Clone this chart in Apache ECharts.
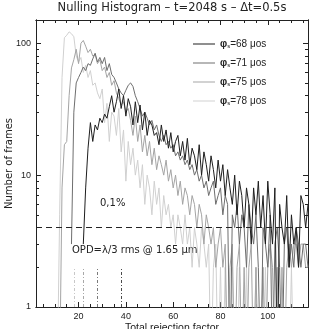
<!DOCTYPE html>
<html><head><meta charset="utf-8">
<script src="https://cdn.jsdelivr.net/npm/echarts@6/dist/echarts.min.js"></script>
<style>html,body{margin:0;padding:0;background:#fff}#c{width:311px;height:329px}</style>
</head><body><div id="c"></div>
<script>
// ---- data ----
const binStart = 10, binEnd = 117;            // histogram bins (rejection factor), one per unit
const phiValues = [68, 71, 75, 78];             // legend values (µas)
const seriesColors = ['#1e1e1e', '#6e6e6e', '#a4a4a4', '#d0d0d0'];
// counts per bin from x=10 to x=117 (null = not drawn, 0 = empty bin)
const s68 = [
 null,null,null,null,null,null,null,null,null,null,
 null,null,3,8,16,25,18,24,22,27,
 25,29,27,33,40,30,36,45,32,40,
 28,38,33,24,36,25,34,22,30,20,
 26,24,20,21,17,24,18,22,16,21,
 15,18,20,14,18,13,19,12,16,14,
 11,17,10,15,12,9,14,11,8,13,
 9,12,7,11,8,6,10,5,9,7,
 4,8,6,3,8,5,9,4,7,3,
 9,5,3,8,0,6,4,3,7,2,
 5,3,4,2,7,6,4,6];
const s71 = [
 null,null,null,null,null,null,null,3,30,50,
 55,60,66,62,70,68,76,84,72,78,
 70,78,62,70,58,55,50,45,42,40,
 44,48,50,47,40,36,32,28,30,27,
 24,26,22,24,20,18,20,17,18,16,
 17,14,15,13,14,12,13,11,12,10,
 11,9,10,8,9,7,8,9,6,7,
 8,5,7,6,0,5,4,6,3,5,
 4,2,6,4,3,5,2,0,4,3,
 2,5,0,3,4,2,0,3,4,2,
 3,2,4,3,2,3,3,2];
const s75 = [
 0,0,0,8,17,18,40,65,75,90,
 70,100,105,95,85,90,80,82,70,75,
 62,66,55,60,48,52,42,38,34,36,
 30,32,26,20,28,18,24,15,20,14,
 18,12,16,11,14,12,10,13,9,11,
 8,10,7,9,6,8,7,5,7,6,
 4,6,5,3,5,4,3,4,2,3,
 4,2,3,0,2,3,0,2,3,0,
 2,0,2,3,0,2,0,0,2,0,
 2,3,2,0,2,0,2,0,2,3,
 2,3,3,2,3,3,2,2];
const s78 = [
 0,0,5,55,110,115,122,118,112,80,
 72,78,60,68,55,62,48,50,42,38,
 45,25,35,18,30,28,20,32,15,22,
 9,18,12,16,10,13,8,12,6,10,
 8,5,9,6,8,4,7,5,6,4,
 5,3,5,4,3,5,3,4,2,4,
 3,2,4,3,2,3,0,2,3,0,
 2,0,2,0,0,2,0,0,2,0,
 0,2,0,0,0,2,0,0,0,2,
 0,0,0,0,2,0,0,0,0,0,
 2,0,0,0,0,0,0,0];
const xTicks = [20, 40, 60, 80, 100];
const xMinorTicks = [5,10,15,25,30,35,45,50,55,65,70,75,85,90,95,105,110,115];
const yTicks = [1, 10, 100];
const yMinorTicks = [2,3,4,5,6,7,8,9,20,30,40,50,60,70,80,90];
const threshold = 4;                  // 0,1% level
const opdX = [38, 28, 22, 18];        // OPD = lambda/3 markers for 68,71,75,78
const opdTop = 2;
const opdColors = ['#4a4a4a', '#7a7a7a', '#a8a8a8', '#c8c8c8'];

// ---- chart ----
const FONT = '"Liberation Sans", Arial, sans-serif';
const FONT2 = '"DejaVu Sans", sans-serif';
const AX = '#222';
const ZERO_DRAW = 0.3; // empty bins drawn below the log floor (clipped)
const bins = [];
for (let x = binStart; x <= binEnd; x++) bins.push(x);
const all = [s68, s71, s75, s78];
const names = phiValues.map(v => 'φs=' + v + ' μos');

function pairs(vals) {
  return bins.map((x, i) => [x, vals[i] == null ? null : (vals[i] === 0 ? ZERO_DRAW : vals[i])]);
}

const xBase = { type: 'value', min: 2, max: 117, splitLine: { show: false },
  axisLine: { show: true, lineStyle: { color: AX, width: 1 } } };
const yBase = { type: 'log', logBase: 10, min: 1, max: 150, splitLine: { show: false },
  axisLine: { show: true, lineStyle: { color: AX, width: 1 } } };

const series = [];
for (let k = all.length - 1; k >= 0; k--) {
  series.push({ name: names[k], type: 'line', data: pairs(all[k]), showSymbol: false, symbol: 'none',
    color: seriesColors[k], lineStyle: { width: 1, color: seriesColors[k] }, clip: true, animation: false,
    connectNulls: false });
}
series.push({ type: 'line', data: [], animation: false,
  markLine: { silent: true, symbol: ['none', 'none'], label: { show: false }, animation: false,
    data: [{ yAxis: threshold, lineStyle: { type: [6, 4], color: '#222', width: 1 } }].concat(
      opdX.map((x, i) => [{ coord: [x, 1], lineStyle: { type: [3, 2, 1, 2], color: opdColors[i], width: 1 } },
                          { coord: [x, opdTop] }])) } });

const option = {
  backgroundColor: '#fff',
  animation: false,
  title: { text: 'Nulling Histogram – t=2048 s – Δt=0.5s', left: 172, top: 2, padding: 0, textAlign: 'center',
    textStyle: { fontFamily: FONT2, fontSize: 11.5, fontWeight: 'normal', color: '#222' } },
  grid: { left: 36, right: 3, top: 20, bottom: 22, outerBoundsMode: 'none', containLabel: false },
  legend: { orient: 'vertical', left: 188, top: 34, itemWidth: 22, itemHeight: 1, itemGap: 9, icon: 'rect',
    data: names, selectedMode: false,
    formatter: n => '{p|φ}{s|s}{t|' + n.slice(2) + '}',
    textStyle: { fontFamily: FONT, fontSize: 10, color: '#222',
      rich: { p: { fontFamily: FONT, fontSize: 10, fontWeight: 'bold', color: '#222' },
              s: { fontFamily: FONT, fontSize: 6, color: '#222', verticalAlign: 'bottom', padding: [4, 0, 0, 0] },
              t: { fontFamily: FONT, fontSize: 10, color: '#222' } } } },
  xAxis: [
    Object.assign({}, xBase, { position: 'bottom',
      axisTick: { show: true, inside: true, length: 3, customValues: xMinorTicks, lineStyle: { color: AX } },
      axisLabel: { show: true, customValues: xTicks, fontFamily: FONT, fontSize: 9, color: '#222', margin: 5 },
      name: 'Total rejection factor', nameLocation: 'middle', nameGap: 16, nameMoveOverlap: false,
      nameTextStyle: { fontFamily: FONT, fontSize: 10.5, color: '#222' } }),
    Object.assign({}, xBase, { position: 'bottom',
      axisTick: { show: true, inside: true, length: 5, customValues: xTicks, lineStyle: { color: AX } },
      axisLabel: { show: false } }),
    Object.assign({}, xBase, { position: 'top',
      axisTick: { show: true, inside: true, length: 3, customValues: xMinorTicks, lineStyle: { color: AX } },
      axisLabel: { show: false } }),
    Object.assign({}, xBase, { position: 'top',
      axisTick: { show: true, inside: true, length: 5, customValues: xTicks, lineStyle: { color: AX } },
      axisLabel: { show: false } })
  ],
  yAxis: [
    Object.assign({}, yBase, { position: 'left',
      axisTick: { show: true, inside: true, length: 5, customValues: yTicks, lineStyle: { color: AX } },
      axisLabel: { show: true, customValues: yTicks, fontFamily: FONT, fontSize: 9, color: '#222', margin: 5 },
      name: 'Number of frames', nameLocation: 'middle', nameGap: 22, nameRotate: 90, nameMoveOverlap: false,
      nameTextStyle: { fontFamily: FONT2, fontSize: 10, color: '#222' } }),
    Object.assign({}, yBase, { position: 'left',
      axisTick: { show: true, inside: true, length: 3, customValues: yMinorTicks, lineStyle: { color: AX } },
      axisLabel: { show: false } }),
    Object.assign({}, yBase, { position: 'right',
      axisTick: { show: true, inside: true, length: 5, customValues: yTicks, lineStyle: { color: AX } },
      axisLabel: { show: false } }),
    Object.assign({}, yBase, { position: 'right',
      axisTick: { show: true, inside: true, length: 3, customValues: yMinorTicks, lineStyle: { color: AX } },
      axisLabel: { show: false } })
  ],
  graphic: [
    { type: 'text', left: 100, top: 198, style: { text: '0,1%', fontFamily: FONT2, fontSize: 10, fill: '#222' } },
    { type: 'text', left: 72, top: 245, style: { text: 'OPD=λ/3 rms @ 1.65 μm', fontFamily: FONT2, fontSize: 10, fill: '#222' } }
  ],
  series: series
};
const chart = echarts.init(document.getElementById('c'));
chart.setOption(option);
</script></body></html>
